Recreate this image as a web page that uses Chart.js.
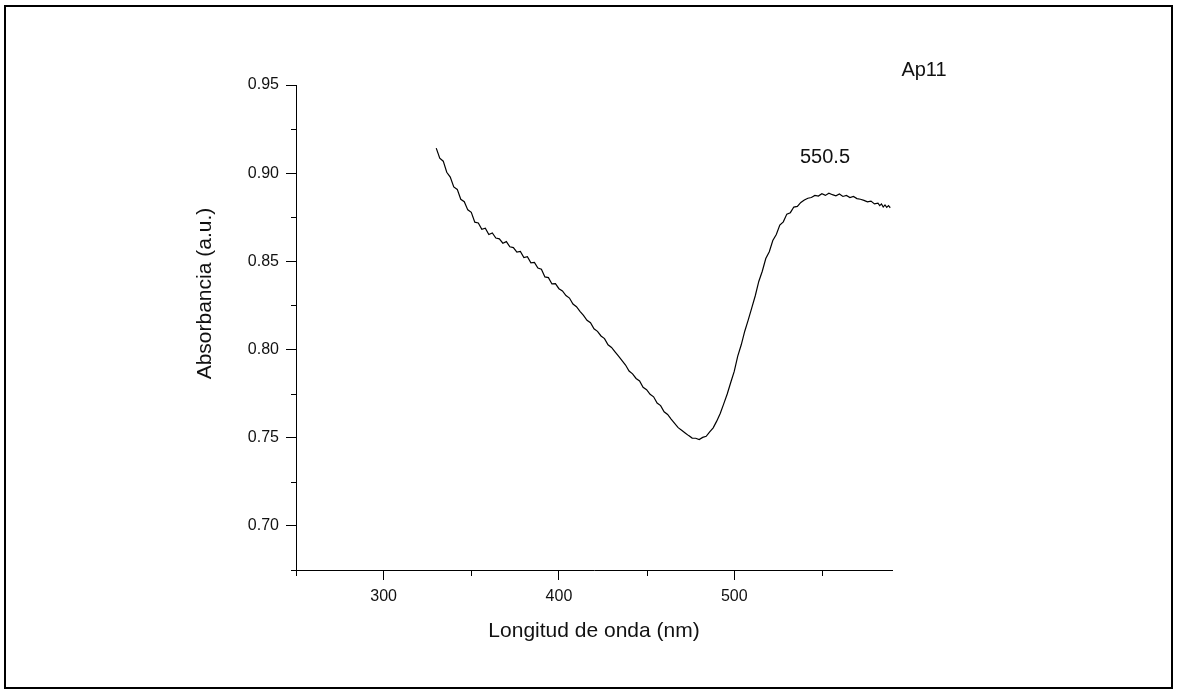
<!DOCTYPE html>
<html>
<head>
<meta charset="utf-8">
<script src="https://cdn.jsdelivr.net/npm/chart.js@4.4.1/dist/chart.umd.min.js"></script>
<style>
  html, body { margin: 0; padding: 0; background: #fff; }
  #wrap { width: 1177px; height: 693px; position: relative; }
</style>
</head>
<body>
<div id="wrap"><canvas id="spectrum"></canvas></div>
<script>
// longitud de onda (nm) y absorbancia
const wavelength = [
  330, 332, 334, 336, 338, 340, 342, 344, 346, 348,
  350, 352, 354, 356, 358, 360, 362, 364, 366, 368,
  370, 372, 374, 376, 378, 380, 382, 384, 386, 388,
  390, 392, 394, 396, 398, 400, 402, 404, 406, 408,
  410, 412, 414, 416, 418, 420, 422, 424, 426, 428,
  430, 432, 434, 436, 438, 440, 442, 444, 446, 448,
  450, 452, 454, 456, 458, 460, 462, 464, 466, 468,
  470, 472, 474, 476, 478, 480, 482, 484, 486, 488,
  490, 492, 494, 496, 498, 500, 502, 504, 506, 508,
  510, 512, 514, 516, 518, 520, 522, 524, 526, 528,
  530, 532, 534, 536, 538, 540, 542, 544, 546, 548,
  550, 552, 554, 556, 558, 560, 562, 564, 566, 568,
  570, 572, 574, 576, 578, 580, 582, 583, 584, 585,
  586, 587, 588, 589
];
const absorbance = [
  0.9142, 0.9085, 0.9068, 0.9005, 0.8978, 0.8922, 0.8908, 0.8852, 0.8838, 0.8792,
  0.8778, 0.8722, 0.8718, 0.8682, 0.8688, 0.8652, 0.8661, 0.8632, 0.8628, 0.8603,
  0.8612, 0.8583, 0.8578, 0.8552, 0.8556, 0.8522, 0.8526, 0.8492, 0.8494, 0.8462,
  0.8455, 0.8412, 0.8408, 0.8372, 0.8374, 0.8345, 0.8332, 0.8306, 0.8292, 0.8258,
  0.8243, 0.8217, 0.8194, 0.8166, 0.8152, 0.8118, 0.8103, 0.8077, 0.8062, 0.8027,
  0.8012, 0.7987, 0.7962, 0.7937, 0.7912, 0.7878, 0.7862, 0.7836, 0.7822, 0.7786,
  0.7772, 0.7746, 0.7732, 0.7697, 0.7682, 0.7647, 0.7632, 0.7606, 0.7582, 0.7557,
  0.7542, 0.7527, 0.7512, 0.7498, 0.7497, 0.7490, 0.7502, 0.7508, 0.7533, 0.7556,
  0.7594, 0.7637, 0.7692, 0.7748, 0.7813, 0.7876, 0.7963, 0.8027, 0.8104, 0.8168,
  0.8236, 0.8305, 0.8386, 0.8444, 0.8516, 0.8555, 0.8618, 0.8652, 0.8706, 0.8724,
  0.8768, 0.8776, 0.8808, 0.8812, 0.8834, 0.8848, 0.8858, 0.8862, 0.8874, 0.8870,
  0.8884, 0.8874, 0.8886, 0.8878, 0.8872, 0.8882, 0.8868, 0.8874, 0.8862, 0.8868,
  0.8856, 0.8852, 0.8846, 0.8838, 0.8842, 0.8826, 0.8830, 0.8816, 0.8826, 0.8808,
  0.8820, 0.8806, 0.8816, 0.8804
];

const xTicks = [300, 400, 500];
const xMinor = [250, 350, 450, 550];
const yTicks = [0.70, 0.75, 0.80, 0.85, 0.90, 0.95];
const yMinor = [0.675, 0.725, 0.775, 0.825, 0.875, 0.925];

const FONT = "'Liberation Sans', Arial, sans-serif";
const INK = '#111';

// marco, ticks menores y textos
const extras = {
  id: 'extras',
  beforeDraw(chart) {
    const c = chart.ctx;
    c.save();
    c.fillStyle = '#fff';
    c.fillRect(0, 0, chart.width, chart.height);
    c.strokeStyle = '#000';
    c.lineWidth = 2;
    c.strokeRect(5, 6, chart.width - 10, chart.height - 11);
    c.restore();
  },
  afterDraw(chart) {
    const c = chart.ctx;
    const xs = chart.scales.x, ys = chart.scales.y;
    const area = chart.chartArea;
    c.save();
    c.strokeStyle = '#000';
    c.lineWidth = 1;
    c.beginPath();
    xMinor.forEach(v => {
      const px = Math.round(xs.getPixelForValue(v)) + 0.5;
      c.moveTo(px, area.bottom);
      c.lineTo(px, area.bottom + 6);
    });
    yMinor.forEach(v => {
      const py = Math.round(ys.getPixelForValue(v)) + 0.5;
      c.moveTo(area.left, py);
      c.lineTo(area.left - 5, py);
    });
    c.stroke();

    c.fillStyle = INK;
    c.font = '21px ' + FONT;
    c.textAlign = 'center';
    c.textBaseline = 'middle';
    c.translate(205, area.top + (area.bottom - area.top) * 0.43);
    c.rotate(-Math.PI / 2);
    c.fillText('Absorbancia (a.u.)', 0, 0);
    c.restore();

    c.save();
    c.fillStyle = INK;
    c.font = '20px ' + FONT;
    c.textAlign = 'center';
    c.textBaseline = 'middle';
    c.fillText('550.5', 825, 157);
    c.fillText('Ap11', 924, 70);
    c.restore();
  }
};

const points = wavelength.map((w, i) => ({ x: w, y: absorbance[i] }));

new Chart(document.getElementById('spectrum'), {
  type: 'line',
  data: {
    datasets: [{
      label: 'Ap11',
      data: points,
      borderColor: '#000',
      borderWidth: 1.2,
      pointRadius: 0,
      tension: 0,
      fill: false,
    }]
  },
  options: {
    responsive: true,
    maintainAspectRatio: false,
    animation: false,
    layout: { padding: { left: 188, right: 285, top: 85, bottom: 40 } },
    plugins: {
      legend: { display: false },
      tooltip: { enabled: false },
    },
    scales: {
      x: {
        type: 'linear',
        min: 250,
        max: 590,
        afterBuildTicks: s => { s.ticks = xTicks.map(v => ({ value: v })); },
        afterFit: s => { s.height = 83; },
        grid: { drawOnChartArea: false, drawTicks: true, tickLength: 10, color: '#000' },
        border: { display: true, color: '#000', width: 1 },
        ticks: { color: INK, padding: 7, font: { family: FONT, size: 16 }, maxRotation: 0 },
        title: {
          display: true,
          text: 'Longitud de onda (nm)',
          color: INK,
          font: { family: FONT, size: 21 },
          padding: { top: 4, bottom: 9 },
        },
      },
      y: {
        type: 'linear',
        min: 0.675,
        max: 0.95,
        afterBuildTicks: s => { s.ticks = yTicks.map(v => ({ value: v })); },
        afterFit: s => { s.width = 108; },
        grid: { drawOnChartArea: false, drawTicks: true, tickLength: 10, color: '#000' },
        border: { display: true, color: '#000', width: 1 },
        ticks: {
          color: INK,
          padding: 7,
          font: { family: FONT, size: 16 },
          callback: v => v.toFixed(2),
        },
      },
    },
  },
  plugins: [extras],
});
</script>
</body>
</html>
